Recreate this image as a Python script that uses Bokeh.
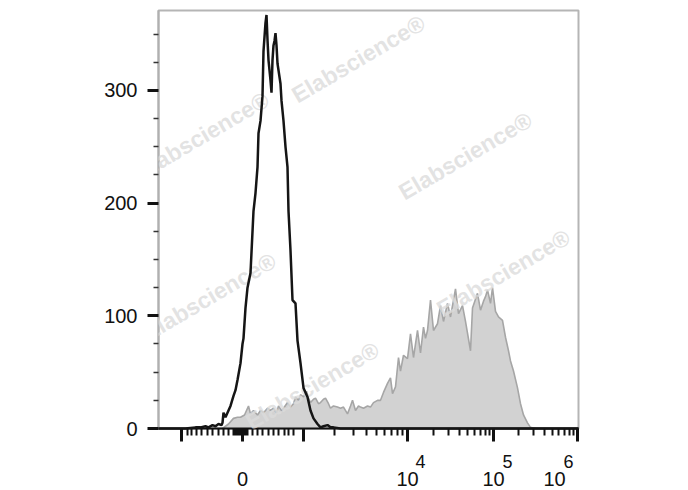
import numpy as np
from bokeh.plotting import figure
from bokeh.models import Range1d, FixedTicker, Label, LinearAxis
from bokeh.embed import file_html
from bokeh.resources import INLINE

# ---- data (x in display channels, y in counts) ----
ctrl_ch = [0, 12, 27, 37, 42, 47, 50, 54, 57, 60,
           63, 64, 65, 67, 70, 72, 75, 77, 79, 82,
           84, 85, 87, 89, 92, 95, 97, 99, 100, 102,
           104, 105, 107, 108, 109, 110, 112, 113, 114, 115,
           116, 117, 118, 119, 122, 123, 125, 127, 129, 130,
           132, 134, 137, 139, 142, 145, 147, 149, 152, 155,
           159, 162, 165, 169, 172, 175, 182, 420]
ctrl_counts = [0, 0, 0, 1, 1, 2, 1, 3, 2, 4,
               3, 5, 14, 10, 16, 20, 29, 34, 43, 58,
               75, 80, 107, 125, 138, 193, 209, 232, 262, 273,
               295, 335, 360, 367, 345, 327, 309, 298, 327, 340,
               344, 351, 340, 324, 306, 291, 273, 250, 232, 193,
               158, 114, 111, 78, 58, 36, 32, 28, 16, 9,
               4, 1, 2, 3, 1, 1, 0, 0]

stain_ch = [64, 67, 70, 75, 79, 82, 86, 90, 92, 95,
            99, 102, 105, 109, 112, 115, 118, 120, 123, 125,
            129, 132, 135, 137, 140, 142, 145, 148, 150, 152,
            155, 157, 160, 162, 165, 167, 170, 172, 175, 179,
            182, 185, 189, 192, 194, 197, 200, 202, 205, 209,
            212, 215, 219, 222, 225, 229, 232, 234, 237, 240,
            242, 245, 249, 252, 255, 259, 262, 265, 267, 269,
            272, 275, 279, 282, 285, 289, 292, 297, 300, 304,
            307, 312, 314, 319, 322, 325, 327, 329, 332, 334,
            337, 340, 344, 347, 350, 352, 355, 359, 362, 365,
            369, 372, 377]
stain_counts = [0, 2, 4, 9, 10, 10, 12, 20, 13, 16,
                12, 16, 14, 18, 16, 18, 14, 20, 16, 18,
                23, 19, 22, 28, 25, 30, 28, 33, 27, 23,
                26, 27, 22, 23, 26, 27, 22, 18, 20, 19,
                18, 19, 13, 20, 25, 16, 20, 19, 18, 20,
                19, 23, 25, 25, 32, 40, 45, 31, 37, 63,
                51, 65, 62, 84, 63, 87, 67, 90, 80, 87,
                114, 87, 93, 109, 95, 111, 99, 124, 102, 109,
                95, 69, 107, 120, 105, 113, 117, 123, 111, 125,
                104, 99, 96, 81, 69, 60, 51, 36, 22, 12,
                5, 1, 0]

# axis ticks
y_major = [0, 100, 200, 300]
y_minor = [25, 50, 75, 125, 150, 175, 225, 250, 275, 325, 350]
x_decade_pos = [23, 84, 145, 249, 335, 419]     # -10^3, 0, 10^3, 10^4, 10^5, 10^6
x_lin_minor = [29, 33, 38, 43, 49, 54, 60, 65, 70,
               75, 77, 79, 81, 83, 85, 87, 89,
               94, 99, 104, 110, 115, 120, 126, 130, 135]
x_labels = ["0", "10", "10", "10"]
x_label_pos = [84, 249, 335, 396]
x_sup = ["4", "5", "6"]
x_sup_pos = [262, 349, 410]

watermark = "Elabscience\u00ae"
wm_x = [44, 200, 307, 51, 345, 154]
wm_y = [260, 328, 242, 117, 138, 38]

# log minor ticks
x_log_minor = []
for a, b in zip(x_decade_pos[2:-1], x_decade_pos[3:]):
    for m in range(2, 10):
        x_log_minor.append(float(a + (b - a) * np.log10(m)))

p = figure(width=680, height=490, x_range=Range1d(0, 420), y_range=Range1d(0, 371),
           output_backend="svg", toolbar_location=None,
           min_border_left=158, min_border_right=102, min_border_top=10, min_border_bottom=62)
p.grid.visible = False
p.outline_line_color = "#b5b5b5"
p.outline_line_width = 2
p.background_fill_color = "white"
p.border_fill_color = "white"

p.varea(x=stain_ch, y1=0, y2=stain_counts, fill_color="#d2d2d2")
p.line(stain_ch, stain_counts, line_color="#a6a6a6", line_width=1.6)

for tx, ty in zip(wm_x, wm_y):
    p.add_layout(Label(x=tx, y=ty, text=watermark, angle=0.53,
                       text_align="center", text_baseline="middle",
                       text_font="Liberation Sans", text_font_style="bold",
                       text_font_size="23px", text_color="#dcdcdc", text_alpha=0.8))

blk = p.line(ctrl_ch, ctrl_counts, line_color="#151515", line_width=2.5)
blk.level = "overlay"

# y axis
ya = p.yaxis[0]
ya.ticker = FixedTicker(ticks=y_major, minor_ticks=y_minor)
ya.axis_line_color = "#b0b0b0"
ya.axis_line_width = 2
ya.major_tick_line_color = "#111111"
ya.major_tick_line_width = 3
ya.major_tick_out = 11
ya.major_tick_in = 0
ya.minor_tick_line_color = "#333333"
ya.minor_tick_line_width = 1.5
ya.minor_tick_out = 5
ya.minor_tick_in = 0
ya.major_label_text_font = "Liberation Sans"
ya.major_label_text_font_size = "20px"
ya.major_label_text_color = "#111111"
ya.major_label_standoff = 10

# x axis: ticks only
xa = p.xaxis[0]
xa.ticker = FixedTicker(ticks=x_decade_pos, minor_ticks=x_lin_minor + x_log_minor)
xa.axis_line_color = "#111111"
xa.axis_line_width = 2
xa.major_tick_line_color = "#111111"
xa.major_tick_line_width = 3
xa.major_tick_out = 13
xa.major_tick_in = 0
xa.minor_tick_line_color = "#111111"
xa.minor_tick_line_width = 2
xa.minor_tick_out = 7
xa.minor_tick_in = 0
xa.major_label_text_font_size = "1px"
xa.major_label_standoff = 0
xa.major_label_overrides = {t: " " for t in x_decade_pos}

# superscript row
sup_axis = LinearAxis(ticker=FixedTicker(ticks=x_sup_pos, minor_ticks=[]),
                      major_label_overrides={t: s for t, s in zip(x_sup_pos, x_sup)})
# base row
base_axis = LinearAxis(ticker=FixedTicker(ticks=x_label_pos, minor_ticks=[]),
                       major_label_overrides={t: s for t, s in zip(x_label_pos, x_labels)})
for ax, fs, so in ((sup_axis, "18px", 9), (base_axis, "20px", 1)):
    ax.axis_line_color = None
    ax.major_tick_line_color = None
    ax.minor_tick_line_color = None
    ax.major_tick_out = 0
    ax.major_tick_in = 0
    ax.minor_tick_out = 0
    ax.minor_tick_in = 0
    ax.major_label_text_font = "Liberation Sans"
    ax.major_label_text_font_size = fs
    ax.major_label_text_color = "#111111"
    ax.major_label_standoff = so
    p.add_layout(ax, "below")

open("out.html", "w").write(file_html(p, INLINE))
